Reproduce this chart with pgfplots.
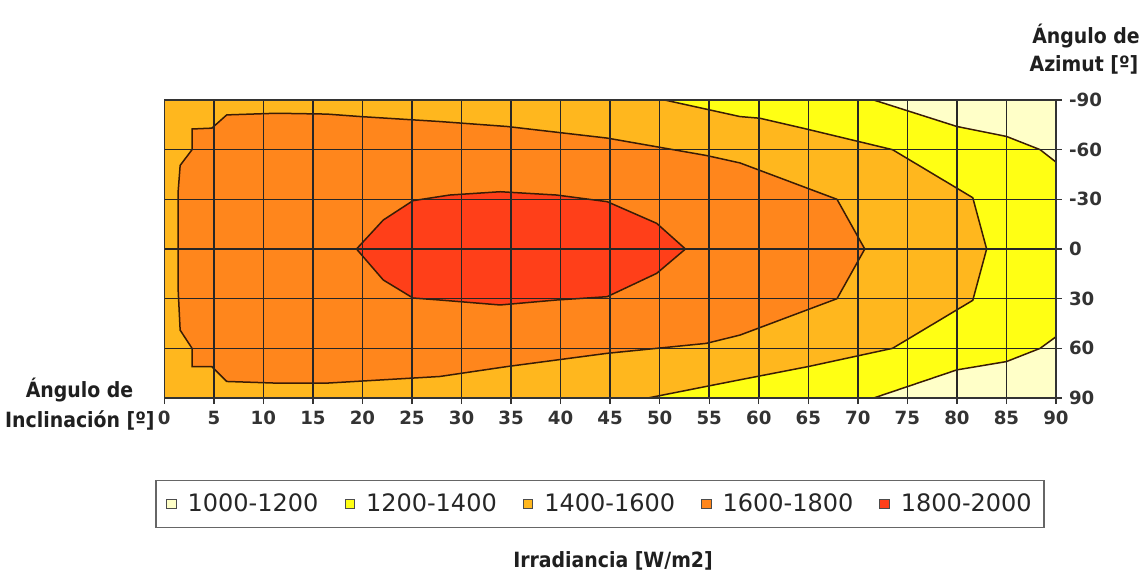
\documentclass[border=0pt]{standalone}
\usepackage{pgfplots}
\pgfplotsset{compat=1.18}
\usepackage{fontspec}
\setmainfont{DejaVu Sans}
\newfontfamily\cond{DejaVu Sans Condensed}
\definecolor{cPale}{HTML}{FFFFC8}
\definecolor{cY}{HTML}{FFFF14}
\definecolor{cLO}{HTML}{FFB71E}
\definecolor{cO}{HTML}{FF861C}
\definecolor{cR}{HTML}{FF3F19}
\definecolor{cline}{HTML}{3A1C05}
\begin{document}
\begin{tikzpicture}
\useasboundingbox (-82.15pt,-88.5pt) rectangle (487.35pt,199pt);
\begin{axis}[
  at={(0pt,0pt)}, anchor=south west,
  scale only axis, width=445.85pt, height=149pt,
  xmin=0, xmax=90, ymin=-90, ymax=90, y dir=reverse,
  axis on top,
  axis line style={draw=black!80, line width=0.7pt},
  xtick={0,5,...,90}, ytick={-90,-60,...,90},
  xticklabels={0,5,10,15,20,25,30,35,40,45,50,55,60,65,70,75,80,85,90},
  yticklabels={-90,-60,-30,0,30,60,90},
  xtick pos=bottom, ytick pos=right, yticklabel pos=right,
  tick align=outside, major tick length=3pt,
  tick style={draw=black!80, line width=0.7pt},
  grid=major, major grid style={draw=black!85, line width=0.75pt},
  tick label style={font=\fontsize{9.1}{11}\selectfont\bfseries, text=black!80},
  legend columns=5,
  legend image code/.code={\draw[#1, line width=0.5pt] (0pt,-2.4pt) rectangle (4.8pt,2.4pt); \path[draw=none, fill=none] (9.5pt,0pt) circle (0pt);},
  legend style={at={(axis description cs:0.4886,-0.3557)}, anchor=center,
    draw=black!60, line width=0.8pt, font=\fontsize{12}{14}\selectfont,
    /tikz/every even column/.append style={column sep=12pt},
    inner xsep=5pt, inner ysep=5.5pt, nodes={inner sep=1pt, text=black!85}},
]
% background 1400-1600
\addplot[forget plot, fill=cLO, draw=none] coordinates {(0,-90) (90,-90) (90,90) (0,90)} -- cycle;
% 1200-1400
\addplot[forget plot, fill=cY, draw=cline, line width=0.75pt] coordinates {
 (50.5,-90) (58.1,-80) (60.1,-79) (64.8,-72.5) (73.5,-60) (81.6,-31) (83.0,0)
 (81.6,31) (73.5,60) (65.0,71) (58.1,79) (54.7,83) (48.8,90) (90,90) (90,-90)} -- cycle;
% 1000-1200 top
\addplot[forget plot, fill=cPale, draw=cline, line width=0.75pt] coordinates {
 (71.6,-90) (80.0,-74) (85.0,-68) (88.4,-60) (90,-52.5) (90,-90)} -- cycle;
% 1000-1200 bottom
\addplot[forget plot, fill=cPale, draw=cline, line width=0.75pt] coordinates {
 (71.6,90) (80.0,73) (85.0,68) (88.4,60) (90,53) (90,90)} -- cycle;
% 1600-1800
\addplot[forget plot, fill=cO, draw=cline, line width=0.75pt] coordinates {
 (6.3,-81) (11.3,-82) (16.4,-81.5) (19.8,-80) (27.8,-77) (34.6,-74) (44.7,-67)
 (54.7,-56.5) (58.1,-52) (67.9,-30) (70.7,0) (67.9,30) (58.1,52) (54.7,57)
 (44.7,63) (34.6,71) (27.8,77) (16.4,81) (11.3,81) (6.3,80) (4.8,71) (2.8,71)
 (2.8,60) (1.6,49) (1.4,25) (1.4,-35) (1.6,-50.5) (2.8,-60) (2.8,-72.5) (4.8,-73)} -- cycle;
% 1800-2000
\addplot[forget plot, fill=cR, draw=cline, line width=0.75pt] coordinates {
 (19.4,0) (22.1,-17.5) (25.1,-29.2) (28.8,-32.6) (33.9,-34.6) (39.6,-32.6)
 (44.7,-28.6) (49.7,-15.5) (52.6,0) (49.7,14.7) (44.7,28.8) (39.6,30.8)
 (33.9,33.8) (27.8,30.8) (25.1,29.6) (22.1,18.7)} -- cycle;
\addlegendimage{fill=cPale, draw=black!70}
\addlegendentry{1000-1200}
\addlegendimage{fill=cY, draw=black!70}
\addlegendentry{1200-1400}
\addlegendimage{fill=cLO, draw=black!70}
\addlegendentry{1400-1600}
\addlegendimage{fill=cO, draw=black!70}
\addlegendentry{1600-1800}
\addlegendimage{fill=cR, draw=black!70}
\addlegendentry{1800-2000}
\end{axis}
\begin{scope}[every node/.style={font=\cond\bfseries\fontsize{10.5}{12}\selectfont, text=black!88, inner sep=0pt}]
\node[anchor=base] at (-42.4pt,0.5pt) {Ángulo de};
\node[anchor=base] at (-42.2pt,-14.5pt) {Inclinación [º]};
\node[anchor=base] at (460.85pt,177.5pt) {Ángulo de};
\node[anchor=base] at (459.85pt,163.25pt) {Azimut [º]};
\node[anchor=base] at (224.35pt,-84.5pt) {Irradiancia [W/m2]};
\end{scope}
\end{tikzpicture}
\end{document}
